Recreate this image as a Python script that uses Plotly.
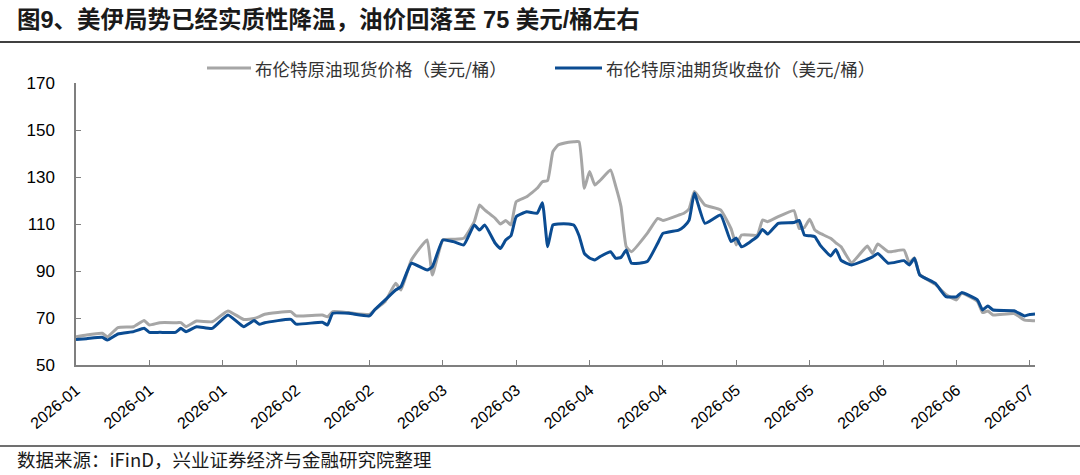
import plotly.graph_objects as go

# ---------------- data ----------------
dates = [
    "2026-01-01", "2026-01-03", "2026-01-06", "2026-01-07", "2026-01-09", "2026-01-12",
    "2026-01-14", "2026-01-15", "2026-01-17", "2026-01-20", "2026-01-21", "2026-01-22",
    "2026-01-24", "2026-01-27", "2026-01-30", "2026-02-02", "2026-02-04", "2026-02-05",
    "2026-02-06", "2026-02-11", "2026-02-12", "2026-02-17", "2026-02-18", "2026-02-19",
    "2026-02-22", "2026-02-26", "2026-02-27", "2026-03-01", "2026-03-03", "2026-03-04",
    "2026-03-06", "2026-03-09", "2026-03-10", "2026-03-12", "2026-03-14", "2026-03-16",
    "2026-03-18", "2026-03-19", "2026-03-20", "2026-03-22", "2026-03-23", "2026-03-24",
    "2026-03-25", "2026-03-26", "2026-03-28", "2026-03-30", "2026-03-31", "2026-04-01",
    "2026-04-02", "2026-04-03", "2026-04-05", "2026-04-06", "2026-04-07", "2026-04-08",
    "2026-04-09", "2026-04-10", "2026-04-11", "2026-04-13", "2026-04-14", "2026-04-15",
    "2026-04-16", "2026-04-17", "2026-04-20", "2026-04-22", "2026-04-23", "2026-04-26",
    "2026-04-27", "2026-04-28", "2026-04-29", "2026-05-01", "2026-05-04", "2026-05-06",
    "2026-05-07", "2026-05-08", "2026-05-11", "2026-05-12", "2026-05-13", "2026-05-15",
    "2026-05-18", "2026-05-19", "2026-05-20", "2026-05-21", "2026-05-22", "2026-05-23",
    "2026-05-25", "2026-05-26", "2026-05-27", "2026-05-29", "2026-06-01", "2026-06-02",
    "2026-06-03", "2026-06-05", "2026-06-08", "2026-06-09", "2026-06-10", "2026-06-11",
    "2026-06-14", "2026-06-16", "2026-06-18", "2026-06-19", "2026-06-22", "2026-06-23",
    "2026-06-24", "2026-06-25", "2026-06-29", "2026-07-01", "2026-07-02", "2026-07-03",
]

brent_spot = [
    62.0, 62.8, 63.5, 62.0, 65.9, 66.3,
    68.9, 67.0, 68.0, 68.0, 68.0, 66.3,
    68.7, 68.4, 73.0, 69.4, 69.8, 70.6,
    71.6, 72.7, 70.9, 71.3, 70.5, 72.7,
    72.3, 71.5, 73.5, 77.0, 84.8, 81.9,
    94.7, 103.2, 88.3, 103.2, 103.5, 103.9,
    111.0, 118.1, 116.0, 112.4, 110.0, 111.5,
    109.6, 119.5, 121.6, 125.2, 128.0, 128.5,
    140.8, 143.6, 144.8, 145.0, 145.0, 125.2,
    132.3, 126.6, 128.5, 133.0, 126.0, 117.4,
    100.3, 98.2, 106.0, 112.4, 111.5, 113.8,
    114.6, 116.5, 123.8, 118.1, 116.0, 108.0,
    101.1, 105.3, 105.3, 111.7, 111.0, 113.1,
    115.7, 108.1, 108.5, 112.0, 107.4, 106.0,
    103.9, 102.0, 100.3, 93.5, 100.6, 97.5,
    101.5, 98.2, 98.9, 93.5, 95.6, 88.5,
    84.3, 80.0, 77.7, 80.5, 77.0, 72.3,
    73.0, 71.3, 71.9, 69.1, 68.9, 68.8,
]

brent_futures = [
    60.9, 61.2, 61.8, 60.6, 63.2, 64.2,
    65.6, 63.9, 63.9, 63.9, 65.6, 64.2,
    66.3, 65.6, 71.3, 66.3, 68.9, 67.3,
    68.0, 69.4, 67.4, 68.2, 67.0, 72.0,
    72.0, 70.9, 73.5, 77.7, 81.9, 83.3,
    93.3, 90.4, 91.8, 103.2, 102.5, 101.1,
    109.6, 107.4, 109.6, 101.8, 99.6, 103.2,
    105.0, 113.1, 115.2, 114.6, 119.1, 100.3,
    109.6, 110.0, 110.0, 109.5, 105.0, 97.5,
    95.5, 94.7, 96.1, 98.2, 95.4, 95.8,
    98.9, 93.3, 94.0, 101.8, 106.0, 107.4,
    108.9, 111.7, 123.1, 110.3, 113.8, 102.5,
    104.0, 100.3, 104.6, 107.7, 105.7, 110.3,
    110.6, 111.5, 105.3, 105.0, 104.6, 101.0,
    96.4, 99.2, 94.5, 92.6, 95.0, 96.0,
    97.5, 93.3, 94.4, 92.6, 95.4, 88.3,
    84.7, 79.1, 79.0, 80.8, 77.7, 73.4,
    75.1, 73.4, 73.1, 70.9, 71.5, 71.7,
]

series_names = ["布伦特原油现货价格（美元/桶）", "布伦特原油期货收盘价（美元/桶）"]
x_tick_dates = [
    "2026-01-01", "2026-01-15", "2026-01-29", "2026-02-12", "2026-02-26",
    "2026-03-12", "2026-03-26", "2026-04-09", "2026-04-23", "2026-05-07",
    "2026-05-21", "2026-06-04", "2026-06-18", "2026-07-02",
]
y_ticks = [50, 70, 90, 110, 130, 150, 170]

title_text = "图9、美伊局势已经实质性降温，油价回落至 75 美元/桶左右"
source_text = "数据来源：iFinD，兴业证券经济与金融研究院整理"

# ---------------- styling ----------------
FONT = "Liberation Sans, Arial, Noto Sans CJK SC, sans-serif"
CJK = "Noto Sans CJK SC, Liberation Sans, sans-serif"
GRAY = "#A6A6A6"
BLUE = "#0B4C92"
AXIS = "#7F7F7F"

W, H = 1080, 475
L, R, T, B = 76, 45, 83, 110
PW, PH = W - L - R, H - T - B


def px(xp):
    return (xp - L) / PW


def py(yp):
    return (H - B - yp) / PH


fig = go.Figure()
for vals, col in ((brent_spot, GRAY), (brent_futures, BLUE)):
    fig.add_trace(go.Scatter(
        x=dates, y=vals, mode="lines",
        line=dict(color=col, width=3, shape="spline", smoothing=0.4),
        showlegend=False, hoverinfo="skip",
    ))

shapes = [
    # title rule
    dict(type="line", xref="paper", yref="paper", x0=px(0), x1=px(W), y0=py(42), y1=py(42),
         line=dict(color="#404040", width=2)),
    # source rule
    dict(type="line", xref="paper", yref="paper", x0=px(0), x1=px(W), y0=py(446), y1=py(446),
         line=dict(color="#404040", width=1.5)),
    # legend samples
    dict(type="line", xref="paper", yref="paper", x0=px(207), x1=px(251), y0=py(68), y1=py(68),
         line=dict(color=GRAY, width=3)),
    dict(type="line", xref="paper", yref="paper", x0=px(555), x1=px(602), y0=py(68), y1=py(68),
         line=dict(color=BLUE, width=3)),
]

annotations = [
    dict(text="<b>" + title_text + "</b>", xref="paper", yref="paper", x=px(15), y=py(20),
         xanchor="left", yanchor="middle", showarrow=False,
         font=dict(family=FONT, size=23.5, color="#1A1A1A")),
    dict(text=source_text, xref="paper", yref="paper", x=px(15), y=py(459),
         xanchor="left", yanchor="middle", showarrow=False,
         font=dict(family=CJK, size=18.5, color="#1A1A1A")),
    dict(text=series_names[0], xref="paper", yref="paper", x=px(253), y=py(68),
         xanchor="left", yanchor="middle", showarrow=False,
         font=dict(family=CJK, size=17.5, color="#333333")),
    dict(text=series_names[1], xref="paper", yref="paper", x=px(604), y=py(68),
         xanchor="left", yanchor="middle", showarrow=False,
         font=dict(family=CJK, size=17.5, color="#333333")),
]

fig.update_layout(
    width=W, height=H,
    margin=dict(l=L, r=R, t=T, b=B, pad=0),
    paper_bgcolor="white", plot_bgcolor="white",
    shapes=shapes, annotations=annotations,
    font=dict(family=FONT, color="#000000"),
)

fig.update_xaxes(
    type="date", range=["2026-01-01", "2026-07-03"],
    tickmode="array", tickvals=x_tick_dates, tickformat="%Y-%m",
    tickangle=-40, ticks="inside", ticklen=5, tickcolor=AXIS,
    showline=True, linecolor=AXIS, linewidth=1.5, showgrid=False, zeroline=False,
    tickfont=dict(family=FONT, size=16, color="#000000"),
    ticklabelstandoff=8,
)
fig.update_yaxes(
    range=[50, 170], tickmode="array", tickvals=y_ticks,
    ticks="inside", ticklen=5, tickcolor=AXIS,
    showline=True, linecolor=AXIS, linewidth=1.5, showgrid=False, zeroline=False,
    tickfont=dict(family=FONT, size=17, color="#000000"),
    ticklabelstandoff=16,
)

fig.write_html("out.html")
